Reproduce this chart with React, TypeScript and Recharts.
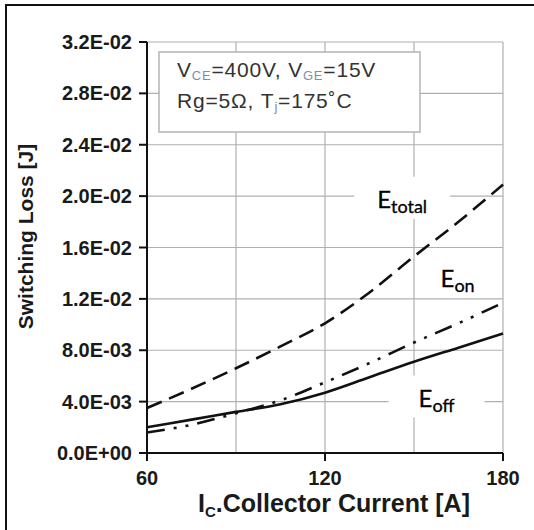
import {
  CartesianGrid,
  Label,
  Line,
  LineChart,
  ReferenceDot,
  ReferenceLine,
  XAxis,
  YAxis,
} from 'recharts';

// collector current [A]
const current = [60, 75, 90, 105, 120, 135, 150, 165, 180];
// switching losses [J]
const eTotal = [0.0035, 0.005, 0.0066, 0.0083, 0.0101, 0.0125, 0.0153, 0.018, 0.0209];
const eOn = [0.0016, 0.0022, 0.0031, 0.0041, 0.0055, 0.007, 0.0086, 0.0101, 0.0117];
const eOff = [0.002, 0.0026, 0.0032, 0.0038, 0.0047, 0.0059, 0.0071, 0.0082, 0.0093];

const xTicks = [60, 120, 180];
const xGrid = [90, 120, 150, 180];
const yTicks = [0, 0.004, 0.008, 0.012, 0.016, 0.02, 0.024, 0.028, 0.032];
const yTickLabels = [
  '0.0E+00',
  '4.0E-03',
  '8.0E-03',
  '1.2E-02',
  '1.6E-02',
  '2.0E-02',
  '2.4E-02',
  '2.8E-02',
  '3.2E-02',
];

// curve name labels (subscript, position in data units, white backing)
const curveNames = ['total', 'on', 'off'];
const curveLabelX = [146, 164.7, 157.6];
const curveLabelY = [0.0198, 0.01366, 0.00432];
const curveLabelMasked = [true, false, true];

const data = current.map((ic, i) => ({
  ic,
  total: eTotal[i],
  on: eOn[i],
  off: eOff[i],
}));

const ARIAL = '"Liberation Sans", Arial, sans-serif';
const GRID = '#b0b0b0';
const tickFont = { fill: '#1a1a1a', fontFamily: ARIAL, fontWeight: 700 };

function CurveLabel(props: any) {
  const { cx, cy, name, masked } = props;
  if (cx == null || cy == null) return null;
  return (
    <g>
      {masked && <rect x={cx - 48} y={cy - 22} width={96} height={42} fill="#fff" />}
      <text
        x={cx}
        y={cy + 9}
        textAnchor="middle"
        fill="#000"
        fontFamily="Lato, 'Open Sans', sans-serif"
        fontSize={24}
        stroke="#000"
        strokeWidth={0.3}
      >
        E
        <tspan fontSize={18} dy={5}>
          {name}
        </tspan>
      </text>
    </g>
  );
}

function XTitle(props: any) {
  const { x, y, width } = props.viewBox;
  return (
    <text
      x={x + width / 2 + 9}
      y={y + 59}
      textAnchor="middle"
      fill="#1a1a1a"
      fontFamily={ARIAL}
      fontWeight={700}
      fontSize={25}
    >
      I
      <tspan fontSize={15} dy={5}>
        C
      </tspan>
      <tspan dy={-5}>.Collector Current [A]</tspan>
    </text>
  );
}

function YTitle(props: any) {
  const { y, height } = props.viewBox;
  const cx = 33;
  const cy = y + height / 2 - 11;
  return (
    <text
      x={cx}
      y={cy}
      transform={`rotate(-90, ${cx}, ${cy})`}
      textAnchor="middle"
      fill="#1a1a1a"
      fontFamily={ARIAL}
      fontWeight={700}
      fontSize={21}
    >
      Switching Loss [J]
    </text>
  );
}

function ConditionsBox() {
  const sub = { fontSize: 13, fill: '#7f8ea6' };
  return (
    <svg
      width={534}
      height={530}
      style={{ position: 'absolute', left: 0, top: 0, pointerEvents: 'none' }}
    >
      <rect x={159} y={52} width={261} height={80} fill="#fff" stroke="#b4b4b4" strokeWidth={1.5} />
      <text x={177} y={77} fill="#333" fontFamily={ARIAL} fontSize={21} letterSpacing={0.8}>
        V<tspan {...sub} dy={3}>CE</tspan>
        <tspan dy={-3}>=400V, V</tspan>
        <tspan {...sub} dy={3}>GE</tspan>
        <tspan dy={-3}>=15V</tspan>
      </text>
      <text x={177} y={108} fill="#333" fontFamily={ARIAL} fontSize={21} letterSpacing={0.8}>
        Rg=5Ω, T<tspan {...sub} dy={3}>j</tspan>
        <tspan dy={-3}>=175˚C</tspan>
      </text>
    </svg>
  );
}

export default function App() {
  return (
    <div
      style={{
        position: 'absolute',
        left: 0,
        top: 0,
        width: 534,
        height: 530,
        overflow: 'hidden',
        background: '#fff',
      }}
    >
      <div
        style={{
          position: 'absolute',
          left: 5,
          top: 4,
          width: 600,
          height: 600,
          borderTop: '2px solid #111',
          borderLeft: '2px solid #111',
        }}
      />
      <div style={{ position: 'absolute', left: 0, top: 0 }}>
        <LineChart
          width={534}
          height={530}
          data={data}
          margin={{ top: 42, right: 31, left: 7, bottom: 0 }}
        >
          <CartesianGrid stroke={GRID} strokeWidth={1.2} vertical={false} />
          {xGrid.map((v) => (
            <ReferenceLine key={v} x={v} stroke={GRID} strokeWidth={1.2} />
          ))}
          <XAxis
            dataKey="ic"
            type="number"
            domain={[60, 180]}
            ticks={xTicks}
            height={77}
            tick={{ ...tickFont, fontSize: 20 }}
            tickSize={8}
            tickMargin={10}
            tickLine={{ stroke: '#111', strokeWidth: 2 }}
            axisLine={{ stroke: '#111', strokeWidth: 2 }}
          >
            <Label content={<XTitle />} />
          </XAxis>
          <YAxis
            type="number"
            domain={[0, 0.032]}
            ticks={yTicks}
            width={140}
            interval={0}
            tick={{ ...tickFont, fontSize: 20 }}
            tickFormatter={(v: number) => yTickLabels[yTicks.indexOf(v)] ?? ''}
            tickSize={8}
            tickMargin={7}
            tickLine={{ stroke: '#111', strokeWidth: 2 }}
            axisLine={{ stroke: '#111', strokeWidth: 2 }}
          >
            <Label content={<YTitle />} />
          </YAxis>
          {curveNames.map((name, i) => (
            <ReferenceDot
              key={name}
              x={curveLabelX[i]}
              y={curveLabelY[i]}
              shape={(p: any) => (
                <CurveLabel cx={p.cx} cy={p.cy} name={name} masked={curveLabelMasked[i]} />
              )}
            />
          ))}
          <Line
            type="monotone"
            dataKey="total"
            stroke="#111"
            strokeWidth={2.6}
            strokeDasharray="16 8"
            dot={false}
            isAnimationActive={false}
          />
          <Line
            type="monotone"
            dataKey="on"
            stroke="#111"
            strokeWidth={2.6}
            strokeDasharray="18 9 3 9 3 9"
            dot={false}
            isAnimationActive={false}
          />
          <Line
            type="monotone"
            dataKey="off"
            stroke="#111"
            strokeWidth={2.6}
            dot={false}
            isAnimationActive={false}
          />
        </LineChart>
      </div>
      <ConditionsBox />
    </div>
  );
}
